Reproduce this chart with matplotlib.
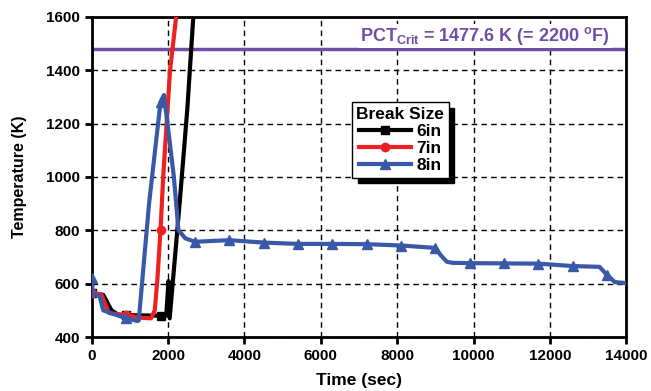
import matplotlib
matplotlib.use("Agg")
from matplotlib import pyplot as plt
import numpy as np

plt.rcParams['font.family'] = ['Liberation Sans', 'DejaVu Sans']
plt.rcParams['font.weight'] = 'bold'
plt.rcParams['mathtext.fontset'] = 'custom'
plt.rcParams['mathtext.bf'] = 'Liberation Sans:bold'
plt.rcParams['mathtext.rm'] = 'Liberation Sans:bold'

# --- data ---
t_6in = [0, 300, 515, 700, 900, 1800, 1950, 2010, 2040, 2300, 2500, 2700]
T_6in = [565, 558, 500, 483, 482, 480, 480, 610, 470, 900, 1250, 1690]

t_7in = [0, 250, 450, 900, 1300, 1550, 1650, 1720, 1800, 1870, 2050, 2250]
T_7in = [565, 560, 490, 482, 472, 470, 500, 620, 800, 1000, 1400, 1650]

t_8in = [0, 30, 200, 300, 400, 900, 1200, 1230, 1500, 1800, 1890, 2000, 2150,
         2270, 2450, 2700, 3600, 4500, 5400, 6300, 7200, 8100, 9000, 9150,
         9300, 9450, 9900, 10800, 11700, 12600, 13300, 13500, 13700, 14000]
T_8in = [620, 560, 555, 500, 495, 470, 460, 462, 900, 1280, 1307, 1180, 1000,
         800, 770, 757, 763, 754, 749, 749, 748, 743, 734, 705,
         682, 678, 677, 676, 675, 666, 663, 632, 606, 602]

pct_crit = 1477.6
labels = ["6in", "7in", "8in"]
colors = ["black", "#ee2020", "#3a58a8"]
markers = ["s", "o", "^"]

fig = plt.figure(figsize=(6.51, 3.91), dpi=100)
ax = fig.add_axes([0.141, 0.138, 0.821, 0.819])

series = [(t_6in, T_6in), (t_7in, T_7in), (t_8in, T_8in)]
for (t, T), lab, c, m in zip(series, labels, colors, markers):
    t = np.array(t)
    mask = (t % 900 == 0)
    ax.plot(t, T, color=c, lw=3, marker=m, markersize=7 if m == "^" else 6,
            markevery=list(mask), label=lab, zorder=3)

purple = "#6f4fa6"
ax.axhline(pct_crit, color=purple, lw=2.5, zorder=2)
ax.text(0.97, 1528, r"PCT$_{\mathbf{Crit}}$ = 1477.6 K (= 2200 $^{\mathbf{o}}$F)",
        transform=ax.get_yaxis_transform(), ha="right", va="center",
        color=purple, fontsize=13, fontweight="bold", zorder=4,
        bbox=dict(facecolor="white", edgecolor="none", pad=1))

ax.set_xlim(0, 14000)
ax.set_ylim(400, 1600)
ax.set_xticks(np.arange(0, 14001, 2000))
ax.set_yticks(np.arange(400, 1601, 200))
ax.grid(True, color="black", ls=(0, (4, 3)), lw=1)
for s in ax.spines.values():
    s.set_linewidth(2)
ax.tick_params(labelsize=11, width=2, length=5)
for lbl in ax.get_xticklabels() + ax.get_yticklabels():
    lbl.set_fontweight("bold")

ax.set_xlabel("Time (sec)", fontsize=12.5, fontweight="bold", labelpad=7)
ax.set_ylabel("Temperature (K)", fontsize=11.5, fontweight="bold", labelpad=14)

leg = ax.legend(title="Break Size", loc="upper left", bbox_to_anchor=(0.487, 0.733),
                fontsize=12.5, title_fontsize=12.5, handlelength=3.0, borderpad=0.25,
                labelspacing=0.12, handletextpad=0.3, borderaxespad=0,
                fancybox=False, shadow={'color': 'black', 'alpha': 1,
                                        'ox': 4, 'oy': -4}, framealpha=1)
leg.get_title().set_fontweight("bold")
leg.get_frame().set_edgecolor("black")
leg.get_frame().set_linewidth(1)

fig.savefig("out.png", dpi=100)
